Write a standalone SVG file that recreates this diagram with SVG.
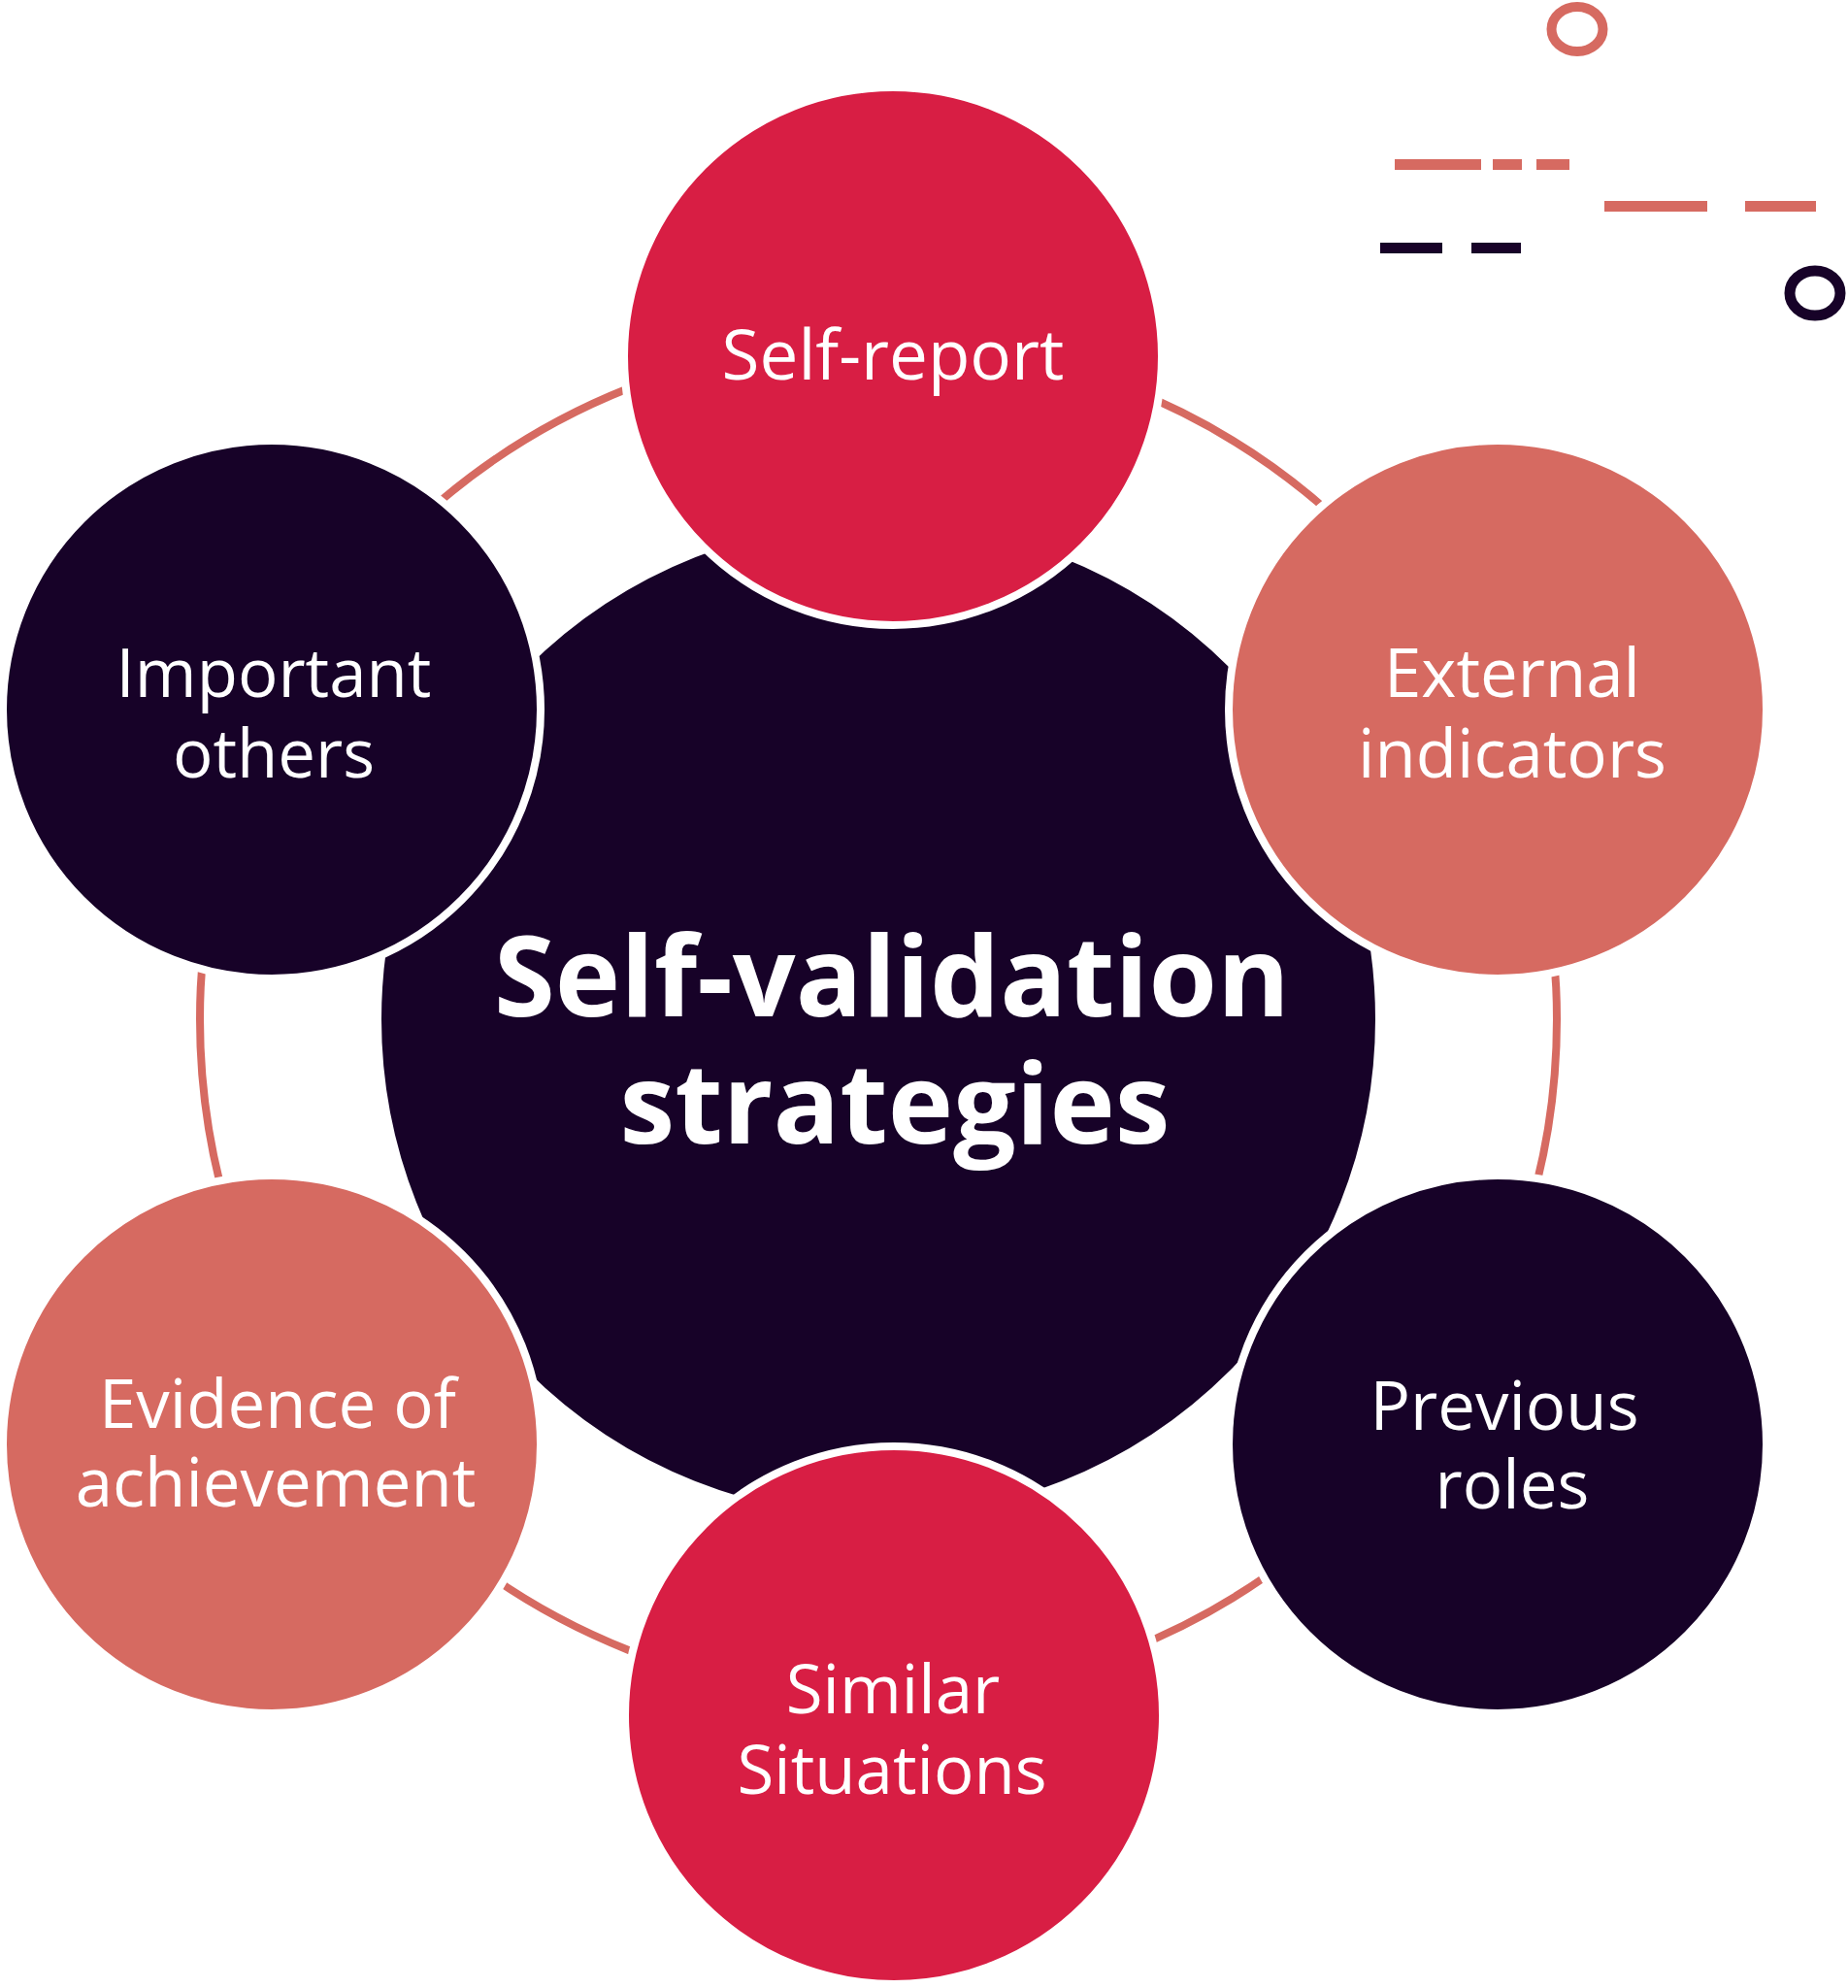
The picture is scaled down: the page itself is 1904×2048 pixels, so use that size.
<svg xmlns="http://www.w3.org/2000/svg" width="1904" height="2048" viewBox="0 0 1904 2048">
  <style>
    .node { stroke: #FFFFFF; stroke-width: 8; }
    .red { fill: #D81E44; }
    .salmon { fill: #D66A61; }
    .dark { fill: #170228; }
    .lbl { font-family: "Open Sans", "Noto Sans", "Liberation Sans", sans-serif; font-size: 69px; fill: #FFFFFF; text-anchor: middle; }
    .title { font-family: "Open Sans", "Noto Sans", "Liberation Sans", sans-serif; font-weight: 700; font-size: 114px; fill: #FFFFFF; text-anchor: middle; }
    .deco-s { fill: #D66A61; }
    .deco-d { fill: #170228; }
  </style>
  <rect width="1904" height="2048" fill="#FFFFFF"/>

  <g id="decorations">
    <ellipse cx="1625" cy="30" rx="26.5" ry="23" fill="none" stroke="#D66A61" stroke-width="10"/>
    <ellipse cx="1870" cy="302" rx="26" ry="23" fill="none" stroke="#170228" stroke-width="11"/>
    <rect class="deco-s" x="1437" y="164" width="89" height="11"/>
    <rect class="deco-s" x="1538" y="164" width="30" height="11"/>
    <rect class="deco-s" x="1583" y="164" width="34" height="11"/>
    <rect class="deco-s" x="1653" y="207" width="106" height="11"/>
    <rect class="deco-s" x="1798" y="207" width="73" height="11"/>
    <rect class="deco-d" x="1422" y="250" width="64" height="11"/>
    <rect class="deco-d" x="1516" y="250" width="51" height="11"/>
  </g>

  <g id="connectors">
    <circle cx="905" cy="1050" r="699" fill="none" stroke="#D66A61" stroke-width="8"/>
  </g>

  <g id="center">
    <circle cx="905" cy="1050" r="516" class="dark" stroke="#FFFFFF" stroke-width="8"/>
    <text class="title" x="919" y="1047">Self-validation</text>
    <text class="title" x="922" y="1178">strategies</text>
  </g>

  <g id="node-self-report">
    <circle cx="920" cy="367" r="277" class="node red"/>
    <text class="lbl" x="920" y="391" style="font-size:71px">Self-report</text>
  </g>

  <g id="node-external-indicators">
    <circle cx="1543" cy="731" r="277" class="node salmon"/>
    <text class="lbl" x="1558" y="718">External</text>
    <text class="lbl" x="1558" y="801">indicators</text>
  </g>

  <g id="node-previous-roles">
    <circle cx="1543" cy="1488" r="277" class="node dark"/>
    <text class="lbl" x="1550" y="1473">Previous</text>
    <text class="lbl" x="1558" y="1554">roles</text>
  </g>

  <g id="node-similar-situations">
    <circle cx="921" cy="1767" r="277" class="node red"/>
    <text class="lbl" x="920" y="1765">Similar</text>
    <text class="lbl" x="919" y="1848">Situations</text>
  </g>

  <g id="node-evidence-of-achievement">
    <circle cx="280" cy="1488" r="277" class="node salmon"/>
    <text class="lbl" x="286" y="1471">Evidence of</text>
    <text class="lbl" x="284" y="1552">achievement</text>
  </g>

  <g id="node-important-others">
    <circle cx="280" cy="731" r="277" class="node dark"/>
    <text class="lbl" x="282" y="718">Important</text>
    <text class="lbl" x="282" y="801">others</text>
  </g>
</svg>
